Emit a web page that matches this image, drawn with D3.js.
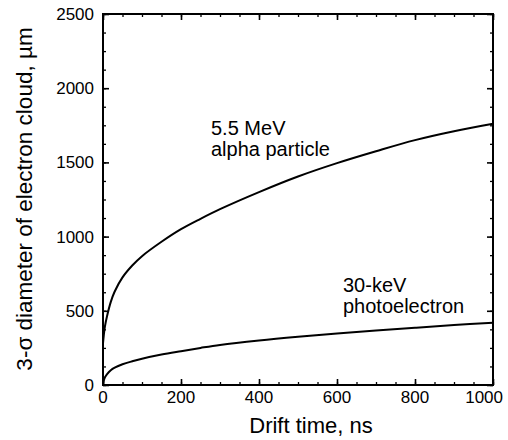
<!DOCTYPE html>
<html>
<head>
<meta charset="utf-8">
<script src="https://cdn.jsdelivr.net/npm/d3@7"></script>
<style>
  body { margin: 0; background: #fff; }
  svg { font-family: "Liberation Sans", Arial, sans-serif; }
</style>
</head>
<body>
<svg id="chart" width="508" height="440"></svg>
<script>
// drift time (ns) and 3-sigma diameter (um)
const driftTime = [0, 2, 5, 10, 20, 30, 50, 75, 100, 150, 200, 250, 300, 400, 500, 600, 700, 800, 900, 1000];
const alphaDiameter = [280, 335, 395, 460, 560, 630, 725, 805, 868, 965, 1050, 1120, 1185, 1300, 1405, 1495, 1575, 1650, 1710, 1760];
const photoDiameter = [0, 30, 52, 72, 100, 117, 140, 160, 177, 205, 228, 250, 270, 300, 325, 347, 367, 386, 404, 420];

const xTicks = [0, 200, 400, 600, 800, 1000];
const yTicks = [0, 500, 1000, 1500, 2000, 2500];
const xMinor = d3.range(0, 1001, 50);
const yMinor = d3.range(0, 2501, 125);

const svg = d3.select("#chart");
const plotLeft = 103, plotRight = 493, plotTop = 14, plotBottom = 385;

const x = d3.scaleLinear().domain([0, 1000]).range([plotLeft, plotRight]);
const y = d3.scaleLinear().domain([0, 2500]).range([plotBottom, plotTop]);

// ticks pointing inward on all four sides
function tickAxis(axis, major, minor, transform) {
  svg.append("g")
    .attr("transform", transform)
    .call(axis.tickValues(minor).tickSize(3).tickFormat(""))
    .call(g => g.select(".domain").remove())
    .selectAll("line").attr("stroke", "#000").attr("stroke-width", 1.3);
  svg.append("g")
    .attr("transform", transform)
    .call(axis.tickValues(major).tickSize(6).tickFormat(""))
    .call(g => g.select(".domain").remove())
    .selectAll("line").attr("stroke", "#000").attr("stroke-width", 1.6);
}
tickAxis(d3.axisTop(x), xTicks, xMinor, `translate(0,${plotBottom})`);
tickAxis(d3.axisBottom(x), xTicks, xMinor, `translate(0,${plotTop})`);
tickAxis(d3.axisRight(y), yTicks, yMinor, `translate(${plotLeft},0)`);
tickAxis(d3.axisLeft(y), yTicks, yMinor, `translate(${plotRight},0)`);

// frame
svg.append("rect")
  .attr("x", plotLeft).attr("y", plotTop)
  .attr("width", plotRight - plotLeft).attr("height", plotBottom - plotTop)
  .attr("fill", "none").attr("stroke", "#000").attr("stroke-width", 2);

// tick labels (last one kept inside the page)
svg.append("g").selectAll("text")
  .data(xTicks)
  .join("text")
  .attr("x", d => d === 1000 ? 503 : x(d))
  .attr("y", 403)
  .attr("text-anchor", d => d === 1000 ? "end" : "middle")
  .attr("font-size", 17)
  .text(d => d);

svg.append("g").selectAll("text")
  .data(yTicks)
  .join("text")
  .attr("x", 94)
  .attr("y", d => y(d) + 6)
  .attr("text-anchor", "end")
  .attr("font-size", 17)
  .text(d => d);

// axis titles
svg.append("text")
  .attr("x", (plotLeft + plotRight) / 2 + 13)
  .attr("y", 433)
  .attr("text-anchor", "middle")
  .attr("font-size", 22)
  .text("Drift time, ns");

svg.append("text")
  .attr("transform", "translate(32,199) rotate(-90)")
  .attr("text-anchor", "middle")
  .attr("font-size", 22.5)
  .text("3-σ diameter of electron cloud, µm");

// curves
const line = d3.line()
  .x((d, i) => x(driftTime[i]))
  .y(d => y(d))
  .curve(d3.curveCatmullRom.alpha(0.5));

svg.selectAll(".curve")
  .data([alphaDiameter, photoDiameter])
  .join("path")
  .attr("class", "curve")
  .attr("d", line)
  .attr("fill", "none")
  .attr("stroke", "#000")
  .attr("stroke-width", 2);

// curve labels
const labels = [
  { lines: ["5.5 MeV", "alpha particle"], x: 211, y: 135 },
  { lines: ["30-keV", "photoelectron"], x: 343, y: 292 }
];
labels.forEach(l => {
  svg.append("text")
    .attr("font-size", 20)
    .selectAll("tspan")
    .data(l.lines)
    .join("tspan")
    .attr("x", l.x)
    .attr("y", (d, i) => l.y + i * 21)
    .text(d => d);
});
</script>
</body>
</html>
